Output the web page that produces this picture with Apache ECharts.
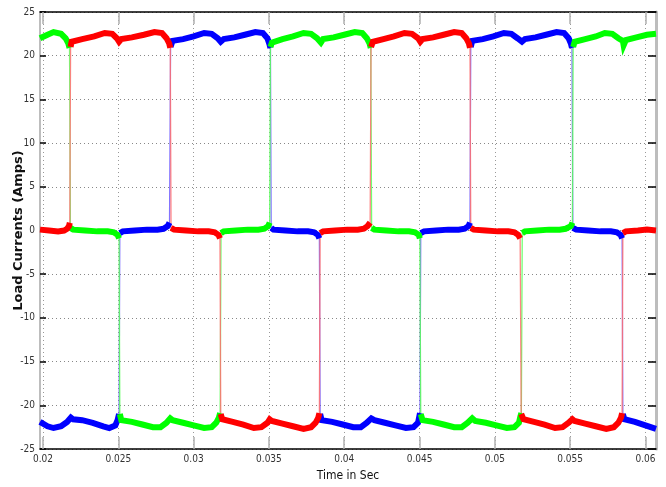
<!DOCTYPE html>
<html><head><meta charset="utf-8">
<script src="https://cdn.jsdelivr.net/npm/echarts@6/dist/echarts.min.js"></script>
<style>html,body{margin:0;padding:0;background:#fff}#c{width:666px;height:487px}</style>
</head><body><div id="c"></div>
<script>
const xTickValues = [0.02, 0.025, 0.03, 0.035, 0.04, 0.045, 0.05, 0.055, 0.06];
const xTickLabels = ['0.02', '0.025', '0.03', '0.035', '0.04', '0.045', '0.05', '0.055', '0.06'];
const yTickLabels = ['-25', '-20', '-15', '-10', '-5', '0', '5', '10', '15', '20', '25'];

// Phase A (red): [time s, current A]
const phaseA = [
[0.0198,0.1],[0.0204,0.0],[0.0210,-0.1],[0.0214,0.0],[0.0216,0.2],[0.02172,0.5],[0.02178,0.9],
[0.02183,21.0],[0.0219,21.6],[0.0226,21.9],[0.0234,22.2],[0.0241,22.6],[0.0246,22.5],[0.0249,22.0],[0.02505,21.6],[0.0252,21.9],[0.0259,22.1],[0.0267,22.4],[0.0274,22.7],[0.0279,22.6],[0.0282,22.0],[0.02838,21.4],[0.02845,20.9],
[0.0285,0.3],[0.0287,0.1],[0.0295,0.0],[0.0303,-0.1],[0.0310,-0.1],[0.0314,-0.2],[0.03165,-0.5],[0.03175,-0.9],
[0.0318,-21.0],[0.0319,-21.6],[0.0326,-21.9],[0.0333,-22.2],[0.0340,-22.6],[0.0345,-22.5],[0.0349,-22.0],[0.03505,-21.6],[0.0352,-21.8],[0.0359,-22.1],[0.0366,-22.4],[0.0373,-22.7],[0.0378,-22.5],[0.0381,-22.0],[0.03828,-21.4],[0.03835,-20.9],
[0.0384,-0.3],[0.0386,-0.1],[0.0394,0.0],[0.0402,0.1],[0.0409,0.1],[0.0413,0.2],[0.04155,0.5],[0.04172,0.9],
[0.04178,21.0],[0.0419,21.6],[0.0426,21.9],[0.0433,22.2],[0.0440,22.6],[0.0445,22.5],[0.0449,22.0],[0.04505,21.6],[0.0452,21.9],[0.0459,22.1],[0.0466,22.4],[0.0473,22.7],[0.0478,22.6],[0.0481,22.0],[0.04828,21.4],[0.04835,20.9],
[0.0484,0.3],[0.0486,0.1],[0.0494,0.0],[0.0502,-0.1],[0.0509,-0.1],[0.0513,-0.2],[0.05155,-0.5],[0.05168,-0.9],
[0.05175,-21.0],[0.0519,-21.6],[0.0526,-21.9],[0.0533,-22.2],[0.0540,-22.6],[0.0545,-22.5],[0.0549,-22.0],[0.05515,-21.6],[0.0553,-21.8],[0.0560,-22.1],[0.0567,-22.4],[0.0574,-22.7],[0.0579,-22.5],[0.0582,-22.0],[0.05838,-21.4],[0.05845,-20.9],
[0.0585,-0.3],[0.0587,-0.1],[0.0595,0.0],[0.0601,0.1],[0.0607,0.0]
];

// Phase B (green)
const phaseB = [
[0.0198,22.0],[0.0203,22.4],[0.0207,22.7],[0.0212,22.5],[0.0215,22.0],[0.02168,21.4],[0.02176,20.9],
[0.02182,0.3],[0.0220,0.1],[0.0228,0.0],[0.0236,-0.1],[0.0243,-0.1],[0.0247,-0.2],[0.02495,-0.5],[0.02505,-0.9],
[0.0251,-21.0],[0.0252,-21.7],[0.0259,-21.9],[0.0266,-22.2],[0.0273,-22.5],[0.0278,-22.5],[0.0282,-22.0],[0.02845,-21.5],[0.0286,-21.7],[0.0293,-22.0],[0.0300,-22.3],[0.0307,-22.6],[0.0312,-22.5],[0.0315,-22.0],[0.03168,-21.4],[0.03176,-20.9],
[0.03182,-0.3],[0.0320,-0.1],[0.0328,0.0],[0.0336,0.1],[0.0343,0.1],[0.0347,0.2],[0.03495,0.5],[0.03505,0.9],
[0.0351,21.0],[0.0352,21.5],[0.0359,21.9],[0.0366,22.2],[0.0373,22.6],[0.0378,22.5],[0.0382,22.0],[0.03845,21.5],[0.0386,21.9],[0.0393,22.1],[0.0400,22.4],[0.0407,22.7],[0.0412,22.6],[0.0415,22.0],[0.04168,21.4],[0.04176,20.9],
[0.04182,0.3],[0.0420,0.1],[0.0428,0.0],[0.0436,-0.1],[0.0443,-0.1],[0.0447,-0.2],[0.04495,-0.5],[0.04502,-0.9],
[0.04508,-21.0],[0.0452,-21.7],[0.0459,-21.9],[0.0466,-22.2],[0.0473,-22.5],[0.0478,-22.5],[0.0482,-22.0],[0.0485,-21.5],[0.0487,-21.8],[0.0494,-22.0],[0.0501,-22.3],[0.0508,-22.6],[0.0513,-22.5],[0.0516,-22.0],[0.05168,-21.4],[0.05176,-20.9],
[0.05182,-0.3],[0.0520,-0.1],[0.0528,0.0],[0.0536,0.1],[0.0543,0.1],[0.0547,0.2],[0.05505,0.5],[0.05515,0.9],
[0.0552,21.0],[0.0553,21.6],[0.0560,21.9],[0.0567,22.2],[0.0573,22.6],[0.0578,22.5],[0.0582,22.0],[0.0585,21.7],[0.05855,21.2],[0.0587,21.8],[0.0594,22.1],[0.0601,22.4],[0.0607,22.5]
];

// Phase C (blue)
const phaseC = [
[0.0198,-21.9],[0.0203,-22.4],[0.0207,-22.6],[0.0212,-22.4],[0.0216,-21.9],[0.02185,-21.4],[0.0220,-21.6],[0.0226,-21.7],[0.0233,-22.0],[0.0240,-22.4],[0.0244,-22.6],[0.0248,-22.3],[0.02495,-21.7],[0.02505,-21.0],
[0.0251,-0.3],[0.0253,-0.1],[0.0261,0.0],[0.0269,0.1],[0.0276,0.1],[0.0280,0.2],[0.02828,0.5],[0.0284,0.9],
[0.02847,21.0],[0.0286,21.7],[0.0293,21.9],[0.0300,22.2],[0.0307,22.6],[0.0312,22.5],[0.0316,22.0],[0.0318,21.6],[0.0320,21.9],[0.0327,22.1],[0.0334,22.4],[0.0341,22.7],[0.0346,22.6],[0.0349,22.0],[0.03502,21.4],[0.0351,20.9],
[0.03515,0.3],[0.0353,0.1],[0.0361,0.0],[0.0369,-0.1],[0.0376,-0.1],[0.0380,-0.2],[0.03825,-0.5],[0.03835,-0.9],
[0.0384,-21.0],[0.0385,-21.7],[0.0392,-21.9],[0.0399,-22.2],[0.0406,-22.5],[0.0411,-22.5],[0.0415,-22.0],[0.0418,-21.5],[0.0420,-21.7],[0.0427,-22.0],[0.0434,-22.3],[0.0441,-22.6],[0.0446,-22.5],[0.0449,-22.0],[0.04497,-21.4],[0.04503,-20.9],
[0.04508,-0.3],[0.0453,-0.1],[0.0461,0.0],[0.0469,0.1],[0.0476,0.1],[0.0480,0.2],[0.04825,0.5],[0.04835,0.9],
[0.0484,21.0],[0.0485,21.7],[0.0492,21.9],[0.0499,22.2],[0.0506,22.6],[0.0511,22.5],[0.0515,22.0],[0.0518,21.6],[0.0520,21.9],[0.0527,22.1],[0.0534,22.4],[0.0541,22.7],[0.0546,22.6],[0.0549,22.0],[0.05505,21.4],[0.05512,20.9],
[0.05518,0.3],[0.0554,0.1],[0.0562,0.0],[0.0570,-0.1],[0.0577,-0.1],[0.0581,-0.2],[0.05835,-0.5],[0.05845,-0.9],
[0.0585,-21.0],[0.0586,-21.6],[0.0593,-21.9],[0.0600,-22.3],[0.0607,-22.7]
];

const phases = [
  { data: phaseC, color: '#0000ff', edge: 'rgba(90,70,255,0.75)' },
  { data: phaseB, color: '#00ff00', edge: 'rgba(90,255,90,0.85)' },
  { data: phaseA, color: '#ff0000', edge: 'rgba(255,110,110,0.85)' }
];

// break the thick band at the switching edges
function bands(arr) {
  const out = [];
  for (let i = 0; i < arr.length; i++) {
    if (i > 0 && Math.abs(arr[i][1] - arr[i - 1][1]) > 5) {
      out.push([(arr[i][0] + arr[i - 1][0]) / 2, null]);
    }
    out.push(arr[i]);
  }
  return out;
}

const narrow = "'Liberation Sans Narrow', 'DejaVu Sans Condensed', 'Liberation Sans', sans-serif";
const series = [];
phases.forEach(p => {
  series.push({ type: 'line', data: p.data, symbol: 'none', silent: true,
    lineStyle: { color: p.edge, width: 1.3 }, z: 2 });
});
phases.forEach(p => {
  series.push({ type: 'line', data: bands(p.data), symbol: 'none', silent: true, connectNulls: false,
    lineStyle: { color: p.color, width: 6, join: 'miter', cap: 'butt' }, z: 3 });
});

const chart = echarts.init(document.getElementById('c'), null, { renderer: 'canvas' });
chart.setOption({
  animation: false,
  backgroundColor: '#ffffff',
  grid: { left: 40, right: 10, top: 12, bottom: 38, containLabel: false, outerBoundsMode: 'none' },
  xAxis: [{
    type: 'value', min: 0.0198, max: 0.0607, position: 'bottom',
    name: 'Time in Sec', nameLocation: 'middle', nameGap: 21, nameMoveOverlap: false,
    nameTextStyle: { fontFamily: narrow, fontSize: 12, color: '#111' },
    axisLine: { show: true, onZero: false, lineStyle: { color: '#000', width: 1.5 } },
    axisTick: { show: true, inside: true, length: 12, customValues: xTickValues, lineStyle: { color: '#b0b0b0', width: 1.5 } },
    axisLabel: { show: true, customValues: xTickValues, margin: 5, fontFamily: narrow, fontSize: 10, color: '#333',
      formatter: v => { const i = xTickValues.findIndex(t => Math.abs(t - v) < 1e-9); return i >= 0 ? xTickLabels[i] : ''; } },
    splitLine: { show: true, lineStyle: { color: '#999', type: [1, 3], width: 1 } }
  }, {
    type: 'value', min: 0.0198, max: 0.0607, position: 'top',
    axisLine: { show: true, onZero: false, lineStyle: { color: '#000', width: 1.5 } },
    axisTick: { show: true, inside: true, length: 12, customValues: xTickValues, lineStyle: { color: '#b0b0b0', width: 1.5 } },
    axisLabel: { show: false }, splitLine: { show: false }
  }],
  yAxis: [{
    type: 'value', min: -25, max: 25, interval: 5, position: 'left',
    name: 'Load Currents (Amps)', nameLocation: 'middle', nameGap: 15, nameRotate: 90, nameMoveOverlap: false,
    nameTextStyle: { fontFamily: "'DejaVu Sans', sans-serif", fontWeight: 'bold', fontSize: 13, color: '#111' },
    axisLine: { show: true, onZero: false, lineStyle: { color: '#bdbdbd', width: 2 } },
    axisTick: { show: true, inside: true, length: 6, lineStyle: { color: '#000', width: 1.5 } },
    axisLabel: { margin: 5, fontFamily: narrow, fontSize: 10, color: '#333',
      formatter: v => { const i = Math.round((v + 25) / 5); return yTickLabels[i]; } },
    splitLine: { show: true, lineStyle: { color: '#888', type: [1, 3], width: 1 } }
  }, {
    type: 'value', min: -25, max: 25, interval: 5, position: 'right',
    axisLine: { show: true, onZero: false, lineStyle: { color: '#bdbdbd', width: 3 } },
    axisTick: { show: true, inside: true, length: 8, lineStyle: { color: '#000', width: 1.5 } },
    axisLabel: { show: false }, splitLine: { show: false }
  }],
  series: series
});
</script></body></html>
